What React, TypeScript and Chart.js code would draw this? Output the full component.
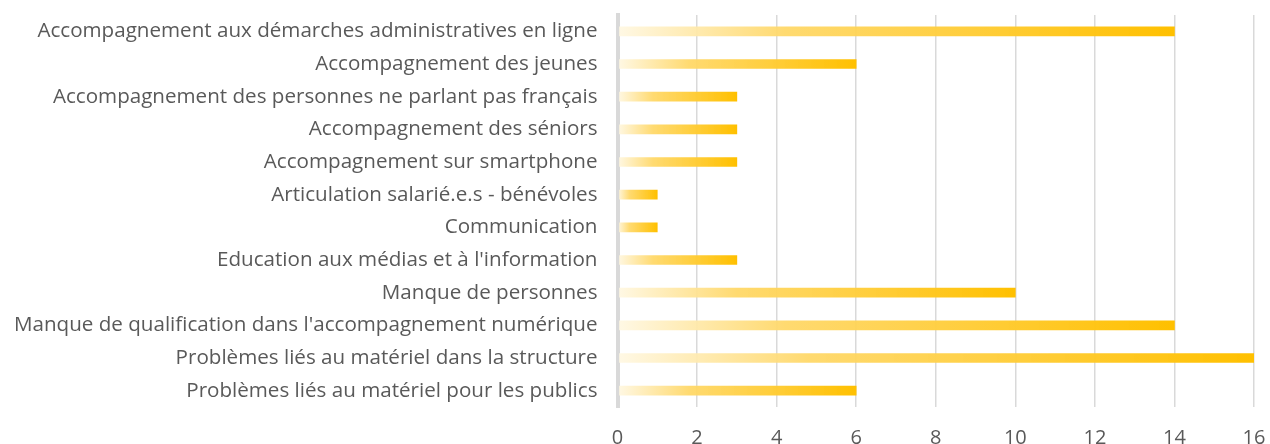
import React, { useEffect, useRef } from "react";
import { Chart, registerables } from "chart.js";

Chart.register(...registerables);

const categories = [
  "Accompagnement aux démarches administratives en ligne",
  "Accompagnement des jeunes",
  "Accompagnement des personnes ne parlant pas français",
  "Accompagnement des séniors",
  "Accompagnement sur smartphone",
  "Articulation salarié.e.s - bénévoles",
  "Communication",
  "Education aux médias et à l'information",
  "Manque de personnes",
  "Manque de qualification dans l'accompagnement numérique",
  "Problèmes liés au matériel dans la structure",
  "Problèmes liés au matériel pour les publics",
];

const values = [14, 6, 3, 3, 3, 1, 1, 3, 10, 14, 16, 6];

const xMin = 0;
const xMax = 16;
const xStep = 2;

export default function App() {
  const ref = useRef<HTMLCanvasElement | null>(null);

  useEffect(() => {
    document.body.style.margin = "0";
    const canvas = ref.current;
    if (!canvas) return;
    const chart = new Chart(canvas, {
      type: "bar",
      data: {
        labels: categories,
        datasets: [
          {
            data: values,
            barThickness: 9,
            borderWidth: 0,
            backgroundColor: (ctx: any) => {
              const c = ctx.chart;
              const xs = c.scales && c.scales.x;
              const v = ctx.raw;
              if (!xs || typeof v !== "number") return "#FFC000";
              const x0 = xs.getPixelForValue(0);
              const x1 = xs.getPixelForValue(v);
              if (!isFinite(x0) || !isFinite(x1) || x1 - x0 < 1) return "#FFC000";
              const g = c.ctx.createLinearGradient(x0, 0, x1, 0);
              g.addColorStop(0, "rgba(255,248,228,0.95)");
              g.addColorStop(0.3, "rgba(255,216,105,0.95)");
              g.addColorStop(1, "rgba(255,192,0,1)");
              return g;
            },
          },
        ],
      },
      options: {
        indexAxis: "y",
        animation: false,
        responsive: false,
        maintainAspectRatio: false,
        layout: { padding: { top: 15, right: 16, left: 0, bottom: 0 } },
        plugins: { legend: { display: false }, tooltip: { enabled: false } },
        scales: {
          x: {
            min: xMin,
            max: xMax,
            ticks: {
              stepSize: xStep,
              color: "#595959",
              padding: 19,
              font: { family: "Open Sans", size: 20 },
            },
            grid: {
              color: "#D9D9D9",
              lineWidth: (ctx: any) => (ctx.index === 0 ? 4 : 1.5),
              drawTicks: false,
            },
            border: { display: false },
            afterFit: (s: any) => {
              s.height = 37;
              s.paddingLeft = 0;
              s.paddingRight = 0;
            },
          },
          y: {
            ticks: {
              color: "#595959",
              padding: 20,
              font: { family: "Open Sans", size: 20.6 },
            },
            grid: { display: false, drawTicks: false },
            border: { display: true, color: "#D9D9D9", width: 4 },
            afterFit: (s: any) => {
              s.width = 617.5;
              s.paddingTop = 0;
              s.paddingBottom = 0;
            },
          },
        },
      },
    });
    return () => chart.destroy();
  }, []);

  return (
    <div style={{ width: 1270, height: 444 }}>
      <canvas ref={ref} width={1270} height={444} style={{ display: "block" }} />
    </div>
  );
}
